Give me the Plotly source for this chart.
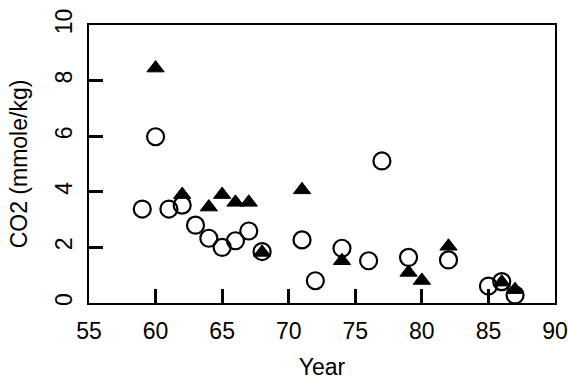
import plotly.graph_objects as go

# Open circles series
circle_year = [59, 60, 61, 62, 63, 64, 65, 66, 67, 68, 71, 72, 74, 76, 77, 79, 82, 85, 86, 87]
circle_co2 = [3.38, 5.98, 3.38, 3.52, 2.8, 2.33, 2.0, 2.24, 2.59, 1.85, 2.27, 0.8, 1.97, 1.52, 5.11, 1.64, 1.55, 0.61, 0.77, 0.29]

# Filled triangles series
tri_year = [60, 62, 64, 65, 66, 67, 68, 71, 74, 79, 80, 82, 86, 87]
tri_co2 = [8.45, 3.9, 3.45, 3.9, 3.62, 3.62, 1.82, 4.07, 1.52, 1.1, 0.81, 2.04, 0.75, 0.48]

x_ticks = [55, 60, 65, 70, 75, 80, 85, 90]
y_ticks = [0, 2, 4, 6, 8, 10]

FONT = "Liberation Sans, Arial, Helvetica, sans-serif"

fig = go.Figure()
fig.add_trace(go.Scatter(
    x=circle_year, y=circle_co2, mode="markers",
    marker=dict(symbol="circle-open", size=17, color="black", line=dict(width=2.2, color="black")),
    showlegend=False,
))
fig.add_trace(go.Scatter(
    x=tri_year, y=tri_co2, mode="markers",
    marker=dict(symbol="triangle-up", size=15, color="black", line=dict(width=1, color="black")),
    showlegend=False,
))

axis_common = dict(
    showline=True, linecolor="black", linewidth=2, mirror=True,
    ticks="inside", ticklen=14, tickwidth=2.5, tickcolor="#000000",
    showgrid=False, zeroline=False, automargin=False,
    tickfont=dict(family=FONT, size=23, color="black"),
)

fig.update_layout(
    template="none",
    width=568, height=380,
    margin=dict(l=89, r=13, t=25, b=77),
    paper_bgcolor="white", plot_bgcolor="white",
    font=dict(family=FONT, color="black"),
    xaxis=dict(
        range=[55, 90], tickmode="array", tickvals=x_ticks, ticktext=[str(v) for v in x_ticks],
        title=dict(text="Year", font=dict(family=FONT, size=23), standoff=26),
        ticklabelstandoff=6, layer="above traces",
        **axis_common,
    ),
    yaxis=dict(
        range=[0, 10], tickmode="array", tickvals=y_ticks, ticktext=[str(v) for v in y_ticks],
        tickangle=-90,
        title=dict(text="CO2 (mmole/kg)", font=dict(family=FONT, size=23), standoff=17),
        ticklabelstandoff=6, layer="above traces",
        **axis_common,
    ),
)

fig.write_html("out.html")
